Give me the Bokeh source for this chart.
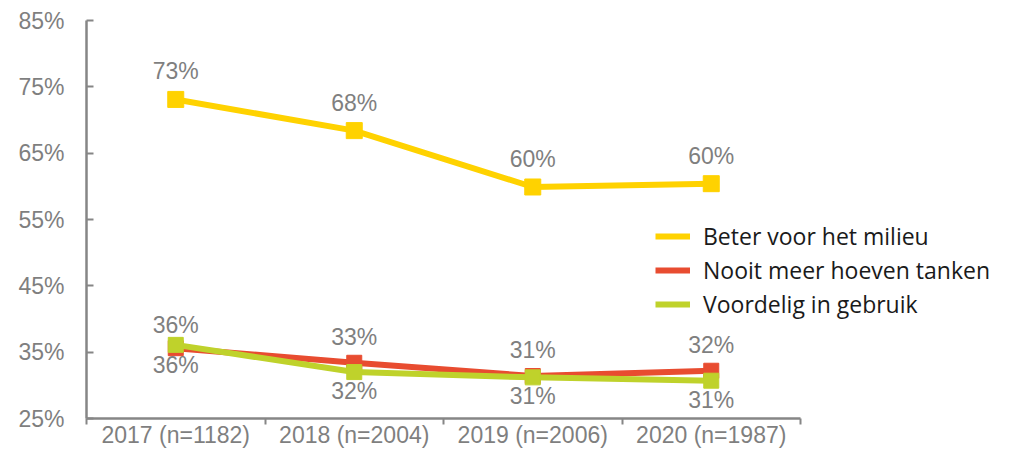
from bokeh.plotting import figure
from bokeh.models import (Range1d, FixedTicker, PrintfTickFormatter, Legend, LegendItem,
                          ColumnDataSource)
from bokeh.core.properties import value
from bokeh.embed import file_html
from bokeh.resources import INLINE

# ---- data ----
categories = ["2017 (n=1182)", "2018 (n=2004)", "2019 (n=2006)", "2020 (n=1987)"]
series_names = ["Beter voor het milieu", "Nooit meer hoeven tanken", "Voordelig in gebruik"]
beter_milieu = [73.1, 68.4, 59.9, 60.4]
nooit_tanken = [35.6, 33.4, 31.4, 32.2]
voordelig = [36.1, 32.0, 31.2, 30.7]
y_ticks = [25, 35, 45, 55, 65, 75, 85]

# ---- style ----
colors = ["#FFD200", "#E84C30", "#BFD22B"]
label_side = [["above"] * 4,
              ["below", "above", "above", "above"],
              ["above", "below", "below", "below"]]
above_off = [-28, -26, -20]
below_off = [17, 17, 19]
GRAY = "#868686"
TXT = "#7F7F7F"
FONT = "Liberation Sans"
W, H = 993, 450
LEFT = 86          # frame left edge (px)
AXIS_END = 800     # where the category axis ends (px)

n = len(categories)
x_end = n * (W - LEFT) / (AXIS_END - LEFT)

p = figure(width=W, height=H, output_backend="svg", toolbar_location=None,
           x_range=Range1d(0, x_end), y_range=Range1d(y_ticks[0], y_ticks[-1]),
           min_border_left=LEFT, min_border_top=20, min_border_bottom=20, min_border_right=0)
p.outline_line_color = None
p.xgrid.visible = False
p.ygrid.visible = False
p.background_fill_color = "white"
p.border_fill_color = "white"

centers = [i + 0.5 for i in range(n)]

# x axis
xa = p.xaxis[0]
xa.bounds = (0, n)
xa.ticker = FixedTicker(ticks=centers, minor_ticks=list(range(n + 1)))
xa.major_label_overrides = {c: lab for c, lab in zip(centers, categories)}
xa.major_tick_out = 0
xa.major_tick_in = 0
xa.minor_tick_out = 6
xa.minor_tick_in = 0
xa.minor_tick_line_color = GRAY
xa.minor_tick_line_width = 2
xa.axis_line_color = GRAY
xa.axis_line_width = 2.5
xa.major_label_text_font = FONT
xa.major_label_text_font_size = "23px"
xa.major_label_text_color = TXT
xa.major_label_standoff = -3

# y axis
ya = p.yaxis[0]
ya.ticker = FixedTicker(ticks=y_ticks)
ya.formatter = PrintfTickFormatter(format="%d%%")
ya.major_tick_in = 7
ya.major_tick_out = 0
ya.minor_tick_line_color = None
ya.major_tick_line_color = GRAY
ya.major_tick_line_width = 2
ya.axis_line_color = GRAY
ya.axis_line_width = 2.5
ya.major_label_text_font = FONT
ya.major_label_text_font_size = "23px"
ya.major_label_text_color = TXT
ya.major_label_standoff = 22

all_series = [beter_milieu, nooit_tanken, voordelig]
legend_items = []
for k, (name, vals) in enumerate(zip(series_names, all_series)):
    src = ColumnDataSource(dict(x=centers, y=vals,
                                lab=[f"{v:.0f}%" for v in vals],
                                yoff=[above_off[k] if s == "above" else below_off[k]
                                      for s in label_side[k]]))
    r = p.line("x", "y", source=src, line_color=colors[k], line_width=6)
    p.scatter("x", "y", source=src, marker="square", size=15 if k else 16,
              fill_color=colors[k], line_color=colors[k])
    legend_items.append(LegendItem(label=name, renderers=[r]))
    p.text("x", "y", text="lab", source=src, y_offset="yoff",
           text_align="center", text_baseline="middle",
           text_font=value(FONT), text_font_size="23px", text_color=TXT)

legend = Legend(items=legend_items, location=(569, 98), orientation="vertical",
                border_line_color=None, background_fill_alpha=0,
                padding=0, margin=0, spacing=2,
                glyph_width=35, glyph_height=30, label_height=30, label_standoff=13,
                label_text_font="Open Sans", label_text_font_size="23px",
                label_text_color="#1A1A1A")
p.add_layout(legend)

open("out.html", "w").write(file_html(p, INLINE))
